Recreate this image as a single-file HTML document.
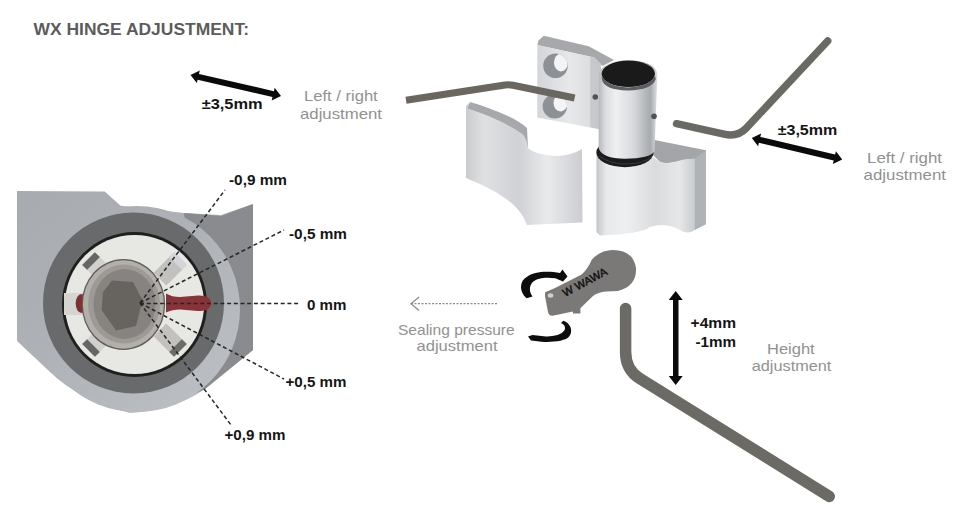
<!DOCTYPE html>
<html><head><meta charset="utf-8">
<style>
html,body{margin:0;padding:0;background:#fff;}
body{width:980px;height:516px;overflow:hidden;position:relative;}
svg{position:absolute;left:0;top:0;}
text{font-family:"Liberation Sans",sans-serif;}
</style></head><body>
<svg width="980" height="516" viewBox="0 0 980 516">
<defs>
  <linearGradient id="gPlate" x1="0" x2="1" y1="0" y2="0">
    <stop offset="0" stop-color="#d3d5d8"/><stop offset="0.5" stop-color="#e7e8ea"/><stop offset="0.82" stop-color="#dcdee0"/><stop offset="0.84" stop-color="#c8cacd"/><stop offset="1" stop-color="#c4c6c9"/>
  </linearGradient>
  <linearGradient id="gCyl" x1="0" x2="1" y1="0" y2="0">
    <stop offset="0" stop-color="#b5b7ba"/><stop offset="0.12" stop-color="#dcdde0"/><stop offset="0.3" stop-color="#eef0f1"/><stop offset="0.6" stop-color="#d6d8db"/><stop offset="0.88" stop-color="#a8abae"/><stop offset="1" stop-color="#dfe0e2"/>
  </linearGradient>
  <linearGradient id="gLower" x1="0" x2="1" y1="0" y2="0">
    <stop offset="0" stop-color="#c4c6c9"/><stop offset="0.1" stop-color="#e8e9eb"/><stop offset="0.3" stop-color="#eeeff0"/><stop offset="0.6" stop-color="#d9dbdd"/><stop offset="0.85" stop-color="#e6e7e9"/><stop offset="1" stop-color="#c9cbce"/>
  </linearGradient>
  <linearGradient id="gCover" x1="0" x2="1" y1="0" y2="0">
    <stop offset="0" stop-color="#c9cbce"/><stop offset="0.15" stop-color="#dfe0e2"/><stop offset="0.45" stop-color="#cfd1d4"/><stop offset="0.7" stop-color="#e9eaec"/><stop offset="1" stop-color="#cbcdd0"/>
  </linearGradient>
  <linearGradient id="gHous" gradientUnits="userSpaceOnUse" x1="40" y1="200" x2="210" y2="400">
    <stop offset="0" stop-color="#a8acb1"/><stop offset="0.45" stop-color="#aeb2b6"/><stop offset="1" stop-color="#bbbfc3"/>
  </linearGradient>
</defs>
<rect width="980" height="516" fill="#fff"/>

<!-- title -->
<text x="33.5" y="34.6" font-size="17" font-weight="bold" fill="#5c5c5c" textLength="215.5" lengthAdjust="spacingAndGlyphs">WX HINGE ADJUSTMENT:</text>

<!-- ===== left detail: housing ===== -->
<g id="housing">
  <path d="M17,191 L104.7,191.6 L120.6,205.7 L184,213 L221,215 L253,204 L253,350 L205,389 Q175,410 130,413 Q80,401 50,372 L17,341 Z" fill="url(#gHous)"/>
  <path d="M184,213 L221,216 L253,204 L253,350 L205,389 L190,396 L195,300 Z" fill="#898b8e"/>
  <circle cx="137" cy="309" r="103" fill="url(#gHous)"/>
  <circle cx="133.5" cy="303" r="90.5" fill="#696a6c"/>
  <circle cx="134.5" cy="304.5" r="72.5" fill="#1f1f1f"/>
  <circle cx="134.5" cy="304.5" r="69.6" fill="#e7e7e3"/>
  <!-- clips -->
  <g transform="translate(134.5,304.5)">
    <g transform="rotate(-135)"><rect x="36" y="-9" width="29" height="18" fill="#d0d0cd"/><rect x="58" y="-9" width="7" height="18" fill="#676665"/></g>
    <g transform="rotate(-45)"><rect x="36" y="-9" width="29" height="18" fill="#c2c1bd"/><rect x="58" y="-9" width="7" height="18" fill="#d3d6d8"/></g>
    <g transform="rotate(135)"><rect x="36" y="-9" width="29" height="18" fill="#d0d0cd"/><rect x="58" y="-9" width="7" height="18" fill="#676665"/></g>
    <g transform="rotate(45)"><rect x="36" y="-9" width="29" height="18" fill="#c2c1bd"/><rect x="58" y="-9" width="7" height="18" fill="#6c6b6a"/></g>
  </g>
  <rect x="64" y="293" width="24" height="22" fill="#d4d4d1"/>
  <ellipse cx="81.5" cy="303.5" rx="5.8" ry="9.5" fill="#7d2f33"/>
  <ellipse cx="123.4" cy="304.5" rx="41.8" ry="45.5" fill="#5f5c59"/>
  <ellipse cx="123.4" cy="304.5" rx="40.5" ry="44.2" fill="#b3b0ab"/>
  <ellipse cx="124" cy="304" rx="36" ry="39.5" fill="#9d9994"/>
  <ellipse cx="124.5" cy="304" rx="31" ry="35" fill="#878380"/>
  <polygon points="112,280.5 133,282 142.5,300 136,326 116,330.5 101.5,310 103,292" fill="#676460"/>
  <!-- red pin -->
  <path d="M166,293.5 Q172,297 180,297 L198,295.5 Q211,295 211,303 Q211,311 198,311 L180,309.5 Q172,309.5 166,312.5 Z" fill="#873337"/>
</g>

<!-- dashed leaders -->
<g stroke="#262626" stroke-width="1.5" stroke-dasharray="4,2.7" fill="none">
  <line x1="140" y1="303" x2="225" y2="190"/>
  <line x1="140" y1="303" x2="284" y2="230"/>
  <line x1="140" y1="303.5" x2="299" y2="303.5"/>
  <line x1="140" y1="303" x2="284" y2="379"/>
  <line x1="140" y1="303" x2="231" y2="425"/>
</g>
<g font-size="14" font-weight="bold" fill="#151515">
  <text x="229" y="185" textLength="58" lengthAdjust="spacingAndGlyphs">-0,9 mm</text>
  <text x="289" y="238.5" textLength="58" lengthAdjust="spacingAndGlyphs">-0,5 mm</text>
  <text x="307" y="309.7" textLength="39.5" lengthAdjust="spacingAndGlyphs">0 mm</text>
  <text x="285.5" y="387" textLength="61" lengthAdjust="spacingAndGlyphs">+0,5 mm</text>
  <text x="224.5" y="439.8" textLength="61" lengthAdjust="spacingAndGlyphs">+0,9 mm</text>
</g>

<!-- ===== top-left arrow & text ===== -->
<polygon points="190.5,75.0 196.8,83.1 197.6,79.7 272.5,97.0 271.7,100.4 281.0,95.9 274.7,87.8 273.9,91.2 199.0,73.9 199.8,70.5" fill="#0a0a0a"/>
<text x="201.7" y="108.7" font-size="14" font-weight="bold" fill="#151515" textLength="61" lengthAdjust="spacingAndGlyphs">±3,5mm</text>
<g font-size="15" fill="#919191">
  <text x="304" y="101" textLength="73.7" lengthAdjust="spacingAndGlyphs">Left / right</text>
  <text x="300" y="118.7" textLength="82" lengthAdjust="spacingAndGlyphs">adjustment</text>
</g>

<!-- ===== right arrow & text ===== -->
<polygon points="751.8,138.0 758.1,146.2 758.9,142.8 833.7,160.5 832.9,163.9 842.2,159.4 835.9,151.2 835.1,154.6 760.3,136.9 761.1,133.5" fill="#0a0a0a"/>
<text x="777.7" y="134.7" font-size="14" font-weight="bold" fill="#151515" textLength="59.6" lengthAdjust="spacingAndGlyphs">±3,5mm</text>
<g font-size="15" fill="#919191">
  <text x="867" y="163.4" textLength="75" lengthAdjust="spacingAndGlyphs">Left / right</text>
  <text x="863.5" y="180" textLength="82.5" lengthAdjust="spacingAndGlyphs">adjustment</text>
</g>

<!-- ===== hinge ===== -->
<g id="hinge">
  <!-- plate -->
  <path d="M543.8,35.8 L588.7,46.3 L614,60 L602.5,66 L594.2,57.4 L537.3,45 L538.5,40.5 Z" fill="#a6a8ab"/>
  <path d="M537.3,45 L594.2,57.4 L601,64 L601,129.5 L537.3,117.5 Z" fill="url(#gPlate)"/>
  <clipPath id="h1"><circle cx="555.5" cy="65.7" r="12.3"/></clipPath>
  <clipPath id="h2"><circle cx="554.8" cy="106.3" r="12.2"/></clipPath>
  <circle cx="555.5" cy="65.7" r="12.3" fill="#8d9196"/>
  <ellipse cx="561" cy="62.5" rx="7" ry="9" fill="#f3f4f5" clip-path="url(#h1)"/>
  <circle cx="554.8" cy="106.3" r="12.2" fill="#8d9196"/>
  <ellipse cx="560.5" cy="103" rx="7" ry="8.5" fill="#f3f4f5" clip-path="url(#h2)"/>
  <circle cx="595.3" cy="97" r="2.8" fill="#505256"/>
  <!-- lower body -->
  <path d="M652,139.6 L706,150.3 L706,224 L694.5,230 L694.5,158.8 L662,164 L650,152 Z" fill="#a3a5a8"/>
  <path d="M694.5,158.8 L706,150.3 L706,224 L694.5,230 Z" fill="#b0b3b6"/>
  <path d="M596.4,150 Q600,167 625,167 Q645,167 653,157 Q660,164 672,163 Q685,158 694.5,158.8 L694.5,230 Q688,235 680,230 Q665,222 650,227 Q640,234 600,235.5 L596.4,232 Z" fill="url(#gLower)"/>
  <!-- black ring -->
  <ellipse cx="625" cy="152.5" rx="28.6" ry="14.7" fill="#1b1b1b"/>
  <path d="M599,156 Q610,164 625,164 Q645,164 652,156" stroke="#3a3a3a" stroke-width="1" fill="none"/>
  <!-- upper cylinder -->
  <path d="M599,74 A29.2,14 0 0 1 657.4,74 L654.5,151.3 Q650,158.7 625,158.7 Q602,158.7 598.6,148 Z" fill="url(#gCyl)"/>
  <ellipse cx="628.3" cy="73.8" rx="26.7" ry="13.3" fill="#1a1a1a"/>
  <path d="M601.8,76 Q606,86 628,87.5 Q650,86 655,76 L655.8,79 Q652,90 628,90.5 Q604,90 601.8,79 Z" fill="#5d5e61"/>
  <circle cx="654" cy="116.3" r="2.8" fill="#4f5154"/>
  <!-- cover -->
  <path d="M470,102 C490,108 515,117 527,128 L528,148 Q524,136 510,127 C498,120 482,114 467,108.6 Z" fill="#a6a8ab"/>
  <path d="M466,106 L470,102 L467,108.6 C482,113 505,122 522.8,134.3 Q527,140 528,148 Q536,155 558,156 Q572,155 582,149 L582.5,222.5 L527,225 C520,205 500,192 466,178 Z" fill="url(#gCover)"/>
</g>

<!-- hex keys -->
<path d="M406,100.3 L505,85 Q509,84.4 513,85.2 L574.6,98" stroke="#6a6761" stroke-width="7.2" fill="none" stroke-linecap="butt" stroke-linejoin="round"/>
<path d="M676.5,123.7 L724,134.2 Q737.7,137.2 746,128.4 L827.7,41" stroke="#6b6964" stroke-width="7.4" fill="none" stroke-linecap="round" stroke-linejoin="round"/>

<!-- ===== sealing pressure ===== -->
<g stroke="#8a8a8a" stroke-width="1.2" fill="none">
  <line x1="411" y1="303.7" x2="497.4" y2="303.7" stroke-dasharray="2,1.5"/>
  <path d="M419,297 L411,303.7 L419,310.5"/>
</g>
<g font-size="15" fill="#919191">
  <text x="398" y="334.5" textLength="116.7" lengthAdjust="spacingAndGlyphs">Sealing pressure</text>
  <text x="416.5" y="351" textLength="81" lengthAdjust="spacingAndGlyphs">adjustment</text>
</g>
<!-- eccentric tool -->
<path d="M545.2,292.2 L555,288 L581.2,274.8 Q588,269 591.6,260 Q600,250 613,250 Q633,250 636,268 Q637,286 618,291 L606,291.5 Q598,292 593,296 L583.7,305 L580.4,308.2 L580.4,313.6 L572.9,313.6 L572.9,311.4 L552.6,315.7 Q549,316 548,312 L545,296 Q545,293 545.2,292.2 Z" fill="#7b7977"/>
<ellipse cx="550.5" cy="295.5" rx="2.8" ry="2.2" fill="#cfcfcd"/>
<text x="0" y="0" font-size="11" fill="#111" stroke="#111" stroke-width="0.4" transform="translate(565,297) rotate(-28)" textLength="49" lengthAdjust="spacingAndGlyphs">W WAWA</text>
<!-- curved arrows -->
<path d="M526.6,298.3 C519,292 519,281 527.4,276.6 C533,271.5 548,270.5 560,273 L562.5,269.5 L567.5,276.5 L563,281.5 L555.3,278.2 C548,277.5 538,277 532.8,282.1 C529,286 529,292 532.6,296.5 Z" fill="#0d0d0d"/>
<path d="M563.1,320.8 C570.5,323 573.5,331 569.3,336.3 C566,341.5 550,342.5 541.4,341.7 L531,340.5 L528,336.5 L532.5,335 L546,336.4 C553,336.6 562,335 564.6,330.1 C566,327 564,324 561,323.3 Z" fill="#0d0d0d"/>

<!-- height hex key -->
<path d="M625.6,308.5 L625.6,352 Q625.6,369.7 640,378.7 L829.2,496.4" stroke="#6c6a64" stroke-width="11.5" fill="none" stroke-linecap="round"/>
<polygon points="675.7,291.0 668.7,300.0 673.0,300.0 673.0,376.0 668.7,376.0 675.7,385.0 682.7,376.0 678.5,376.0 678.5,300.0 682.7,300.0" fill="#0a0a0a"/>
<g font-size="14" font-weight="bold" fill="#151515">
  <text x="690.6" y="328.2" textLength="45.4" lengthAdjust="spacingAndGlyphs">+4mm</text>
  <text x="695.4" y="347.3" textLength="40.6" lengthAdjust="spacingAndGlyphs">-1mm</text>
</g>
<g font-size="15" fill="#919191">
  <text x="767" y="353.5" textLength="47.7" lengthAdjust="spacingAndGlyphs">Height</text>
  <text x="751.7" y="370.5" textLength="79.7" lengthAdjust="spacingAndGlyphs">adjustment</text>
</g>
</svg>
</body></html>
